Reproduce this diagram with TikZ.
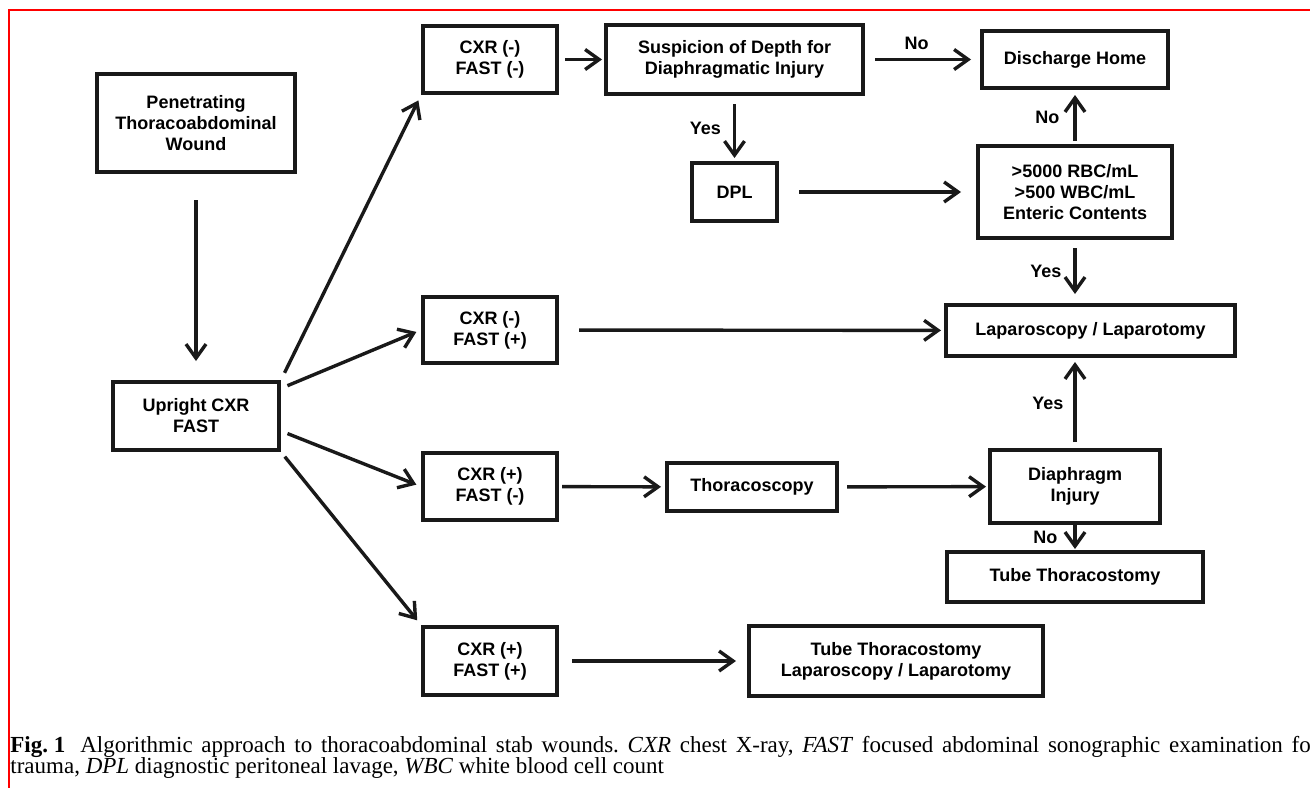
\documentclass[tikz,border=0pt]{standalone}
\usepackage{fontspec}
\setmainfont{Liberation Serif}
\newfontfamily\boxfont{Liberation Sans}
\usetikzlibrary{arrows.meta}

\begin{document}
\begin{tikzpicture}[
    x=0.5pt, y=-0.5pt,
    >={Straight Barb[length=7pt,width=10pt]},
    box/.style={rectangle, draw=black!90, line width=2pt, inner sep=0pt,
      align=center, font=\boxfont\bfseries\fontsize{9}{10.5}\selectfont},
    flow/.style={->, draw=black!90, line width=1.7pt},
    lbl/.style={inner sep=1pt, font=\boxfont\bfseries\fontsize{9}{10.5}\selectfont},
    capline/.style={anchor=base west, inner sep=0pt, font=\frenchspacing\fontsize{11.5}{10.5}\selectfont}
  ]
  \useasboundingbox (0,0) rectangle (1310,787);
  \draw[red, line width=1pt] (9,10) rectangle (1340,800);

  % --- BOXES ---
  \node[box, minimum width=99pt, minimum height=49pt] (pen) at (196,123) {Penetrating\\Thoracoabdominal\\Wound};
  \node[box, minimum width=83pt, minimum height=34pt] (up) at (196,416) {Upright CXR\\FAST};

  \node[box, minimum width=67pt, minimum height=33.5pt] (nn) at (490,59.5) {CXR (-)\\FAST (-)};
  \node[box, minimum width=67pt, minimum height=33pt] (np) at (490,330) {CXR (-)\\FAST (+)};
  \node[box, minimum width=67pt, minimum height=33.5pt] (pn) at (490,486.5) {CXR (+)\\FAST (-)};
  \node[box, minimum width=67pt, minimum height=34pt] (pp) at (490,661) {CXR (+)\\FAST (+)};

  \node[box, minimum width=128.5pt, minimum height=34.5pt] (susp) at (734.5,59.5) {Suspicion of Depth for\\Diaphragmatic Injury};
  \node[box, minimum width=42.5pt, minimum height=29pt] (dpl) at (734.5,192) {DPL};
  \node[box, minimum width=85pt, minimum height=24pt] (thor) at (752,487) {Thoracoscopy};
  \node[box, minimum width=147pt, minimum height=35pt] (tubelap) at (896,661) {Tube Thoracostomy\\Laparoscopy / Laparotomy};

  \node[box, minimum width=93pt, minimum height=28.5pt] (home) at (1075,59.5) {Discharge Home};
  \node[box, minimum width=97pt, minimum height=46pt] (crit) at (1075,192) {>5000 RBC/mL\\>500 WBC/mL\\Enteric Contents};
  \node[box, minimum width=144.5pt, minimum height=25.5pt] (lap) at (1090.5,330.5) {Laparoscopy / Laparotomy};
  \node[box, minimum width=85pt, minimum height=36.5pt] (diaph) at (1075,486.5) {Diaphragm\\Injury};
  \node[box, minimum width=128pt, minimum height=25pt] (tube) at (1075,577) {Tube Thoracostomy};

  % --- ARROWS ---
  \path (pen) edge[flow, shorten <=13pt, shorten >=9.5pt] (up);

  % from the upright CXR / FAST box
  \path (up.north east) edge[flow, shorten <=4pt, shorten >=3pt] (nn.south west)
        (up.18) edge[flow, shorten <=3.5pt, shorten >=2.5pt] (np.west)
        (up.-10) edge[flow, shorten <=3.5pt, shorten >=2.5pt] (pn.west)
        (up.south east) edge[flow, shorten <=3pt, shorten >=3pt] (pp.north west);

  % top row
  \path (nn) edge[flow, shorten <=3pt, shorten >=1pt] (susp)
        (susp) edge[flow, shorten <=5pt, shorten >=4.5pt] node[lbl, above=3pt, xshift=-3pt] {No} (home)
        (susp) edge[flow, shorten <=4pt, shorten >=1.5pt] node[lbl, left=5pt] {Yes} (dpl)
        (dpl) edge[flow, shorten <=10pt, shorten >=7.5pt] (crit)
        (crit) edge[flow, shorten <=1.5pt, shorten >=2.5pt] node[lbl, left=6pt] {No} (home)
        (crit.south) edge[flow, shorten <=4pt, shorten >=4.5pt] node[lbl, left=5pt] {Yes} (crit.south |- lap.north);

  % middle and bottom rows
  \path (np) edge[flow, shorten <=10pt, shorten >=1.5pt] (lap)
        (pn) edge[flow, shorten <=1.5pt, shorten >=2pt] (thor)
        (thor) edge[flow, shorten <=4pt, shorten >=1pt] (diaph)
        (diaph.north) edge[flow, shorten <=3pt, shorten >=2pt] node[lbl, left=4pt] {Yes} (diaph.north |- lap.south)
        (diaph) edge[flow, shorten >=0.5pt] node[lbl, left=7pt] {No} (tube)
        (pp) edge[flow, shorten <=6.5pt, shorten >=5.5pt] (tubelap);

  % --- CAPTION ---
  \node[capline] (cap1) at (10,752)
    {\makebox[654pt][s]{\mbox{\textbf{Fig. 1}}\hspace{0.65em}Algorithmic approach to thoracoabdominal stab wounds. \textit{CXR} chest X-ray, \textit{FAST} focused abdominal sonographic examination for}};
  \node[capline] (cap2) at (10,773)
    {trauma, \textit{DPL} diagnostic peritoneal lavage, \textit{WBC} white blood cell count};
\end{tikzpicture}
\end{document}
